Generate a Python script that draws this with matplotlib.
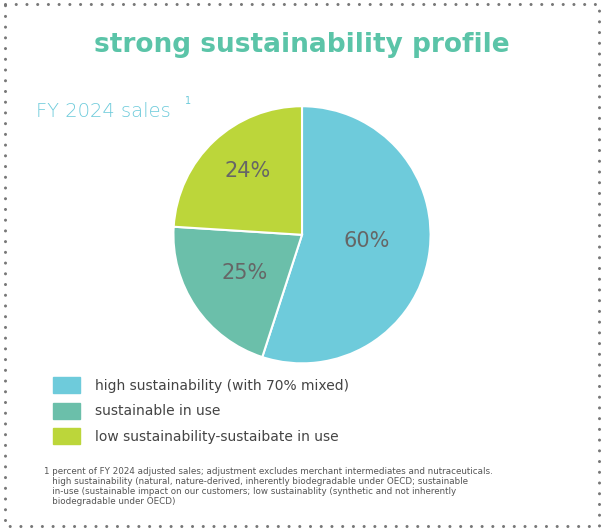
import matplotlib
matplotlib.use("Agg")
import matplotlib.pyplot as plt
from matplotlib.lines import Line2D
from matplotlib.patches import Rectangle

# slice sizes as drawn (share of circle), and the printed labels
categories = ["high sustainability (with 70% mixed)", "sustainable in use",
              "low sustainability-sustaibate in use"]
sizes = [55, 21, 24]
labels = ["60%", "25%", "24%"]
colors = ["#6ecbdb", "#6bbfaa", "#bcd63a"]

fig = plt.figure(figsize=(6.04, 5.30), dpi=100)

# dotted frame
fig.add_artist(Line2D([0.008, 0.992, 0.992, 0.008, 0.008],
                      [0.992, 0.992, 0.008, 0.008, 0.992],
                      transform=fig.transFigure, color="#777777", lw=2.2,
                      linestyle=(0, (0.01, 3.5)), dash_capstyle="round"))

fig.text(0.5, 0.915, "strong sustainability profile", ha="center", va="center",
         fontsize=19, fontweight="bold", color="#5bc4a8")
fig.text(0.06, 0.79, "FY 2024 sales", fontsize=14, color="#6ecbdb",
         fontweight="light", va="center")
fig.text(0.307, 0.81, "1", fontsize=7, color="#6ecbdb", va="center")

ax = fig.add_axes([0.285, 0.312, 0.43, 0.49])
wedges, texts = ax.pie(sizes, colors=colors, startangle=90, counterclock=False,
                       wedgeprops=dict(edgecolor="white", linewidth=1.5))
ax.set_xlim(-1.01, 1.01)
ax.set_ylim(-1.01, 1.01)
label_pos = [(0.5, -0.05), (-0.45, -0.3), (-0.42, 0.5)]
for (x, y), t in zip(label_pos, labels):
    ax.text(x, y, t, ha="center", va="center", fontsize=15, color="#666666")
ax.set_aspect("equal")

for i, (name, c) in enumerate(zip(categories, colors)):
    y = 0.272 - i * 0.048
    fig.add_artist(Rectangle((0.087, y - 0.014), 0.045, 0.03,
                             transform=fig.transFigure, color=c))
    fig.text(0.158, y, name, fontsize=10, color="#444444", va="center")

foot = ("1 percent of FY 2024 adjusted sales; adjustment excludes merchant intermediates and nutraceuticals.\n"
        "   high sustainability (natural, nature-derived, inherently biodegradable under OECD; sustainable\n"
        "   in-use (sustainable impact on our customers; low sustainablity (synthetic and not inherently\n"
        "   biodegradable under OECD)")
fig.text(0.073, 0.082, foot, fontsize=6.3, color="#555555", va="center",
         linespacing=1.15)

fig.savefig("out.png", dpi=100)
